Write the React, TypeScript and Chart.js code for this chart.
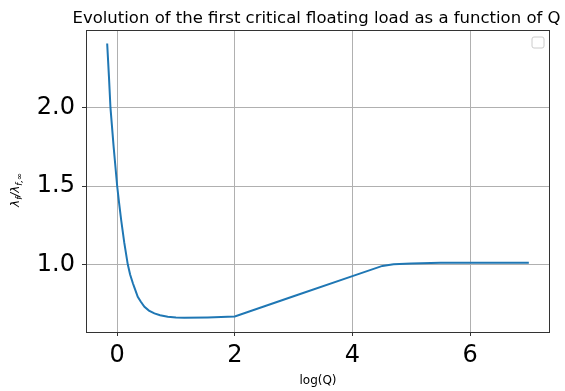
import React, { useEffect, useRef } from "react";
import { Chart, registerables } from "chart.js";

Chart.register(...registerables);

const titleText = "Evolution of the first critical floating load as a function of Q";
const xLabel = "log(Q)";
const xValues = [-0.17, -0.14, -0.114, -0.06, 0, 0.03, 0.068, 0.12, 0.18, 0.22, 0.267, 0.3, 0.35, 0.4, 0.464, 0.54, 0.633, 0.73, 0.86, 1.0, 1.14, 1.54, 1.88, 2.0, 3.0, 4.0, 4.51, 4.7, 5.0, 5.5, 6.0, 7.0];
const yValues = [2.41, 2.2, 2.0, 1.75, 1.5, 1.4, 1.283, 1.14, 1.0, 0.935, 0.879, 0.845, 0.793, 0.763, 0.729, 0.705, 0.687, 0.675, 0.665, 0.661, 0.659, 0.661, 0.665, 0.667, 0.796, 0.925, 0.99, 1.0, 1.006, 1.01, 1.01, 1.01];
const xTicks = [0, 2, 4, 6];
const yTicks = [1.0, 1.5, 2.0];

const FONT = "'DejaVu Sans', sans-serif";

const extrasPlugin = {
  id: "extras",
  afterDatasetsDraw(chart: any) {
    const { ctx, chartArea } = chart;
    ctx.save();
    // frame (all four spines)
    ctx.strokeStyle = "#333";
    ctx.lineWidth = 1;
    ctx.strokeRect(chartArea.left + 0.5, chartArea.top + 0.5, chartArea.right - chartArea.left - 1, chartArea.bottom - chartArea.top);
    // empty legend box
    const lx = chartArea.right - 18, ly = chartArea.top + 7, lw = 12, lh = 11, r = 2;
    ctx.fillStyle = "rgba(255,255,255,0.8)";
    ctx.strokeStyle = "#cccccc";
    ctx.beginPath();
    ctx.moveTo(lx + r, ly);
    ctx.lineTo(lx + lw - r, ly);
    ctx.quadraticCurveTo(lx + lw, ly, lx + lw, ly + r);
    ctx.lineTo(lx + lw, ly + lh - r);
    ctx.quadraticCurveTo(lx + lw, ly + lh, lx + lw - r, ly + lh);
    ctx.lineTo(lx + r, ly + lh);
    ctx.quadraticCurveTo(lx, ly + lh, lx, ly + lh - r);
    ctx.lineTo(lx, ly + r);
    ctx.quadraticCurveTo(lx, ly, lx + r, ly);
    ctx.closePath();
    ctx.fill();
    ctx.stroke();
    // title
    ctx.fillStyle = "#000";
    ctx.font = `16.5px ${FONT}`;
    ctx.textAlign = "center";
    ctx.textBaseline = "alphabetic";
    ctx.fillText(titleText, 316.5, 23);
    ctx.textAlign = "left";
    // y-axis label with subscripts: λ_f / λ_{f,∞}
    const cy = 190;
    ctx.translate(15, cy);
    ctx.rotate(-Math.PI / 2);
    const big = `italic 12px ${FONT}`;
    const small = `italic 8.5px ${FONT}`;
    const parts: [string, string, number][] = [
      ["λ", big, 0],
      ["f", small, 3],
      ["/λ", big, 0],
      ["f,∞", small, 3],
    ];
    let total = 0;
    for (const [t, f] of parts) { ctx.font = f; total += ctx.measureText(t).width; }
    let x = -total / 2;
    for (const [t, f, dy] of parts) {
      ctx.font = f;
      ctx.fillText(t, x, 4 + dy);
      x += ctx.measureText(t).width;
    }
    ctx.restore();
  },
};

export default function App() {
  const ref = useRef<HTMLCanvasElement | null>(null);
  useEffect(() => {
    if (!ref.current) return;
    const chart = new Chart(ref.current, {
      type: "line",
      data: {
        datasets: [
          {
            data: xValues.map((x, i) => ({ x, y: yValues[i] })),
            borderColor: "#1f77b4",
            borderWidth: 2,
            pointRadius: 0,
            fill: false,
            tension: 0,
          },
        ],
      },
      options: {
        responsive: false,
        animation: false,
        layout: { padding: { left: 0, right: 15, top: 30, bottom: 0 } },
        plugins: {
          legend: { display: false },
          tooltip: { enabled: false },
          title: { display: false },
        },
        scales: {
          x: {
            type: "linear",
            min: -0.53,
            max: 7.36,
            afterBuildTicks: (s: any) => { s.ticks = xTicks.map((v) => ({ value: v })); },
            afterFit: (s: any) => { s.height = 59; },
            ticks: {
              color: "#000",
              font: { family: FONT, size: 24 },
              padding: 5,
              maxRotation: 0,
              autoSkip: false,
              callback: (v: any) => String(v),
            },
            grid: { color: "#b0b0b0", lineWidth: 1, tickLength: 4, tickColor: "#333" },
            border: { display: false },
            title: {
              display: true,
              text: xLabel,
              color: "#000",
              font: { family: FONT, size: 12 },
              padding: { top: 0, bottom: 3 },
            },
          },
          y: {
            type: "linear",
            min: 0.568,
            max: 2.496,
            afterBuildTicks: (s: any) => { s.ticks = yTicks.map((v) => ({ value: v })); },
            afterFit: (s: any) => { s.width = 86; },
            ticks: {
              color: "#000",
              font: { family: FONT, size: 24 },
              padding: 7,
              autoSkip: false,
              callback: (v: any) => Number(v).toFixed(1),
            },
            grid: { color: "#b0b0b0", lineWidth: 1, tickLength: 4, tickColor: "#333" },
            border: { display: false },
          },
        },
      },
      plugins: [extrasPlugin],
    });
    return () => chart.destroy();
  }, []);
  return (
    <div style={{ position: "absolute", left: 0, top: 0, width: 565, height: 391, background: "#fff" }}>
      <canvas ref={ref} width={565} height={391} />
    </div>
  );
}
